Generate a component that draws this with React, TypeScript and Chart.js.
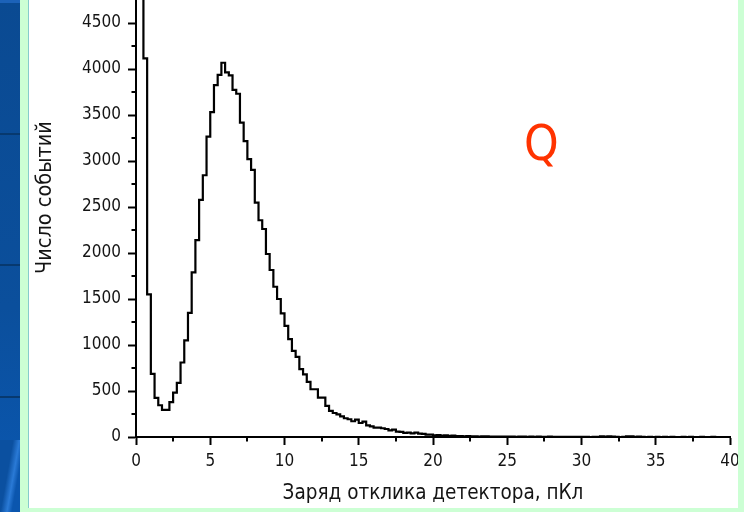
import React, { useEffect, useRef } from 'react';
import { Chart, registerables } from 'chart.js';

Chart.register(...registerables);

// ---- data -------------------------------------------------------------
const BIN_WIDTH = 0.25; // pC per bin
const X_MIN = 0;
const X_MAX = 40;
const Y_MIN = 0;
const Y_MAX = 4750;

// counts per 0.25 pC bin, 0 … 19.75 pC (first two pedestal bins are off-scale)
const countsLow = [
  9000, 16000, 4115, 1550,
  686, 425, 345, 294,
  294, 378, 483, 588,
  810, 1050, 1350, 1790,
  2140, 2577, 2845, 3266,
  3531, 3825, 3937, 4068,
  3963, 3930, 3774, 3731,
  3418, 3216, 3020, 2903,
  2548, 2356, 2261, 1989,
  1815, 1633, 1500, 1343,
  1208, 1064, 936, 871,
  737, 680, 599, 519,
  519, 429, 429, 338,
  283, 261, 247, 225,
  204, 193, 171, 189,
  152, 167, 127, 116,
  102, 102, 95, 87,
  73, 80, 58, 55,
  44, 47, 40, 47,
  36, 33, 25, 25,
];

// counts per bin, 20 … 39.75 pC
const countsTail = [
  18, 20, 15, 17,
  12, 14, 10, 9,
  8, 10, 6, 7,
  5, 6, 8, 4,
  5, 4, 3, 5,
  3, 4, 2, 3,
  4, 2, 3, 2,
  3, 2, 1, 3,
  2, 1, 2, 1,
  2, 1, 1, 2,
  1, 1, 0, 1,
  1, 6, 3, 8,
  3, 1, 0, 1,
  7, 8, 2, 3,
  1, 0, 1, 0,
  1, 0, 1, 0,
  1, 0, 0, 1,
  0, 2, 0, 0,
  1, 0, 0, 1,
  0, 0, 0, 0,
];

const xTickValues = [0, 5, 10, 15, 20, 25, 30, 35, 40];
const xMinorTickValues = [2.5, 7.5, 12.5, 17.5, 22.5, 27.5, 32.5, 37.5];
const yTickValues = [0, 500, 1000, 1500, 2000, 2500, 3000, 3500, 4000, 4500];
const yMinorTickValues = [250, 750, 1250, 1750, 2250, 2750, 3250, 3750, 4250];

const X_TITLE = 'Заряд отклика детектора, пКл';
const Y_TITLE = 'Число событий';
const LABEL_TEXT = 'Q';
const LABEL_POS = { x: 27.3, y: 3150 };

// ---- styling -----------------------------------------------------------
const FONT = "'DejaVu Sans Condensed', 'Liberation Sans', sans-serif";
const TEXT_COLOR = '#141414';

const decorPlugin = {
  id: 'decor',
  afterDraw(chart: any) {
    const { ctx, chartArea } = chart;
    const xs = chart.scales.x;
    const ys = chart.scales.y;
    ctx.save();
    // minor ticks
    ctx.strokeStyle = '#000';
    ctx.lineWidth = 2;
    ctx.beginPath();
    yMinorTickValues.forEach((v) => {
      const py = Math.round(ys.getPixelForValue(v));
      ctx.moveTo(chartArea.left, py);
      ctx.lineTo(chartArea.left - 4.5, py);
    });
    xMinorTickValues.forEach((v) => {
      const px = Math.round(xs.getPixelForValue(v));
      ctx.moveTo(px, chartArea.bottom);
      ctx.lineTo(px, chartArea.bottom + 4.5);
    });
    ctx.stroke();

    // y axis title (rotated)
    ctx.fillStyle = TEXT_COLOR;
    ctx.font = `21.5px ${FONT}`;
    ctx.textAlign = 'center';
    ctx.textBaseline = 'middle';
    ctx.save();
    ctx.translate(ys.left + 16, chartArea.top + (chartArea.bottom - chartArea.top) * 0.452);
    ctx.rotate(-Math.PI / 2);
    ctx.fillText(Y_TITLE, 0, 0);
    ctx.restore();

    // "Q" annotation, placed in data coordinates
    ctx.fillStyle = '#ff3300';
    ctx.font = `49px ${FONT}`;
    ctx.fillText(LABEL_TEXT, xs.getPixelForValue(LABEL_POS.x), ys.getPixelForValue(LABEL_POS.y));
    ctx.restore();
  },
};

export default function App() {
  const canvasRef = useRef<HTMLCanvasElement | null>(null);

  useEffect(() => {
    const canvas = canvasRef.current;
    if (!canvas) return;
    const counts = [...countsLow, ...countsTail];
    const points = counts.map((c, i) => ({ x: X_MIN + i * BIN_WIDTH, y: c }));
    points.push({ x: X_MAX, y: counts[counts.length - 1] });

    const chart = new Chart(canvas, {
      type: 'line',
      data: {
        datasets: [
          {
            data: points,
            borderColor: '#000',
            borderWidth: 2.2,
            pointRadius: 0,
            fill: false,
            stepped: true,
            tension: 0,
          },
        ],
      },
      options: {
        animation: false,
        responsive: false,
        devicePixelRatio: 1,
        events: [],
        layout: { padding: { left: 0, right: 8, top: 0, bottom: 0 } },
        plugins: {
          legend: { display: false },
          tooltip: { enabled: false },
          title: { display: false },
        },
        scales: {
          x: {
            type: 'linear',
            min: X_MIN,
            max: X_MAX,
            afterBuildTicks: (scale: any) => {
              scale.ticks = xTickValues.map((v) => ({ value: v }));
            },
            afterFit: (scale: any) => {
              scale.height = 71;
              scale.paddingLeft = 0;
              scale.paddingRight = 0;
            },
            ticks: {
              autoSkip: false,
              maxRotation: 0,
              padding: 6,
              color: TEXT_COLOR,
              font: { family: FONT, size: 17 },
              callback: (v: any) => String(v),
            },
            grid: {
              display: true,
              drawOnChartArea: false,
              drawTicks: true,
              tickLength: 8,
              tickWidth: 2,
              tickColor: '#000',
              color: '#000',
            },
            border: { display: true, color: '#000', width: 2 },
            title: {
              display: true,
              text: X_TITLE,
              color: TEXT_COLOR,
              font: { family: FONT, size: 20.5 },
              padding: { top: 0, bottom: 2 },
            },
          },
          y: {
            type: 'linear',
            min: Y_MIN,
            max: Y_MAX,
            afterBuildTicks: (scale: any) => {
              scale.ticks = yTickValues.map((v) => ({ value: v }));
            },
            afterFit: (scale: any) => {
              scale.width = 107;
              scale.paddingTop = 0;
              scale.paddingBottom = 0;
            },
            ticks: {
              autoSkip: false,
              padding: 7,
              color: TEXT_COLOR,
              font: { family: FONT, size: 17 },
              callback: (v: any) => String(v),
            },
            grid: {
              display: true,
              drawOnChartArea: false,
              drawTicks: true,
              tickLength: 8,
              tickWidth: 2,
              tickColor: '#000',
              color: '#000',
            },
            border: { display: true, color: '#000', width: 2 },
            title: { display: false },
          },
        },
      },
      plugins: [decorPlugin],
    });
    return () => chart.destroy();
  }, []);

  return (
    <div
      style={{
        position: 'absolute',
        left: 0,
        top: 0,
        width: 744,
        height: 512,
        background: '#ccffd4',
        overflow: 'hidden',
      }}
    >
      {/* slide background strip on the left */}
      <div
        style={{
          position: 'absolute',
          left: 0,
          top: 0,
          width: 20,
          height: 512,
          background: 'linear-gradient(180deg, #0a4a92 0%, #0b4f9c 60%, #0a58b2 100%)',
        }}
      />
      <div style={{ position: 'absolute', left: 0, top: 0, width: 20, height: 3, background: '#1c62b8' }} />
      <div style={{ position: 'absolute', left: 0, top: 133, width: 20, height: 2, background: '#07396f' }} />
      <div style={{ position: 'absolute', left: 0, top: 264, width: 20, height: 2, background: '#07396f' }} />
      <div style={{ position: 'absolute', left: 0, top: 396, width: 20, height: 2, background: '#07396f' }} />
      <div
        style={{
          position: 'absolute',
          left: 0,
          top: 440,
          width: 20,
          height: 72,
          background: 'linear-gradient(100deg, #0b50a0 40%, #2a7ad6 60%, #0b56ae 75%)',
        }}
      />
      {/* thin teal edge of the white panel */}
      <div style={{ position: 'absolute', left: 28, top: 0, width: 1, height: 508, background: '#86cccc' }} />
      {/* white chart panel */}
      <div style={{ position: 'absolute', left: 29, top: 0, width: 709, height: 508, background: '#ffffff' }}>
        <canvas ref={canvasRef} width={709} height={508} style={{ display: 'block', width: 709, height: 508 }} />
      </div>
    </div>
  );
}
